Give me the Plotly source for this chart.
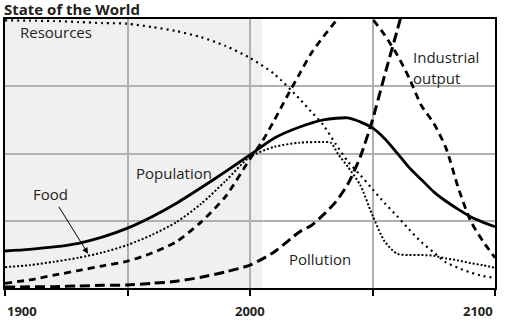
import plotly.graph_objects as go

# ---- data ----
pop_years = [1900, 1910, 1920, 1930, 1940, 1950, 1960, 1970, 1980, 1990, 2000, 2010, 2020, 2030, 2040, 2045, 2050, 2055, 2060, 2065, 2070, 2075, 2080, 2085, 2090, 2095, 2100]
pop_vals  = [0.55, 0.575, 0.61, 0.665, 0.76, 0.89, 1.06, 1.26, 1.49, 1.73, 1.98, 2.23, 2.39, 2.50, 2.53, 2.47, 2.38, 2.22, 2.01, 1.79, 1.61, 1.43, 1.29, 1.17, 1.06, 0.98, 0.91]

food_years = [1900, 1910, 1920, 1930, 1940, 1950, 1960, 1970, 1980, 1990, 2000, 2010, 2020, 2030, 2033, 2036, 2040, 2045, 2050, 2055, 2060, 2065, 2070, 2075, 2080, 2085, 2090, 2095, 2100]
food_vals  = [0.31, 0.34, 0.39, 0.45, 0.53, 0.64, 0.79, 0.98, 1.25, 1.59, 1.95, 2.10, 2.16, 2.17, 2.16, 1.99, 1.80, 1.53, 1.08, 0.69, 0.51, 0.49, 0.49, 0.48, 0.44, 0.41, 0.37, 0.34, 0.30]

res_years = [1900, 1910, 1920, 1930, 1940, 1950, 1960, 1970, 1980, 1990, 2000, 2010, 2020, 2025, 2030, 2035, 2040, 2045, 2050, 2055, 2060, 2065, 2070, 2075, 2080, 2085, 2090, 2095, 2100]
res_vals  = [3.98, 3.975, 3.97, 3.955, 3.94, 3.93, 3.88, 3.82, 3.73, 3.60, 3.42, 3.18, 2.82, 2.62, 2.42, 2.14, 1.88, 1.68, 1.47, 1.26, 1.07, 0.87, 0.68, 0.53, 0.38, 0.30, 0.23, 0.18, 0.15]

ind_years = [1900, 1910, 1920, 1930, 1940, 1950, 1960, 1970, 1980, 1990, 2000, 2005, 2010, 2015, 2020, 2025, 2030, 2035, 2040, 2045, 2050, 2055, 2060, 2065, 2070, 2075, 2080, 2085, 2090, 2095, 2100]
ind_vals  = [0.07, 0.12, 0.19, 0.26, 0.33, 0.40, 0.52, 0.69, 0.98, 1.36, 1.92, 2.18, 2.50, 2.84, 3.17, 3.49, 3.74, 3.97, 4.20, 4.20, 4.00, 3.76, 3.47, 3.12, 2.71, 2.45, 2.08, 1.49, 1.00, 0.70, 0.45]

pol_years = [1900, 1910, 1920, 1930, 1940, 1950, 1960, 1970, 1980, 1990, 2000, 2010, 2020, 2025, 2030, 2035, 2040, 2045, 2050, 2055, 2060, 2065]
pol_vals  = [0.015, 0.017, 0.02, 0.03, 0.04, 0.045, 0.07, 0.10, 0.16, 0.24, 0.34, 0.54, 0.83, 0.93, 1.09, 1.28, 1.55, 1.95, 2.50, 3.17, 3.82, 4.49]

x_tick_labels = ["1900", "2000", "2100"]
x_tick_vals = [1900, 2000, 2100]

FONT = "Open Sans"
TXT = "#231f20"

fig = go.Figure()

def add_line(xs, ys, width, dash):
    fig.add_trace(go.Scatter(x=xs, y=ys, mode="lines",
                             line=dict(color="black", width=width, dash=dash,
                                       shape="spline", smoothing=0.7),
                             hoverinfo="skip", showlegend=False))

add_line(res_years, res_vals, 2.2, "2px,4px")
add_line(food_years, food_vals, 2.0, "2px,2px")
add_line(pol_years, pol_vals, 3.0, "10px,5px")
add_line(ind_years, ind_vals, 2.8, "7px,5px")
add_line(pop_years, pop_vals, 2.8, "solid")

# shaded historical period
fig.add_shape(type="rect", xref="x", yref="y", x0=1900, x1=2005, y0=0, y1=4,
              fillcolor="#f0f0f0", line=dict(width=0), layer="below")

# labels
def label(x, y, text, xanchor="center"):
    fig.add_annotation(x=x, y=y, xref="x", yref="y", text=text, showarrow=False,
                       xanchor=xanchor, yanchor="middle",
                       font=dict(family=FONT, size=15, color=TXT))

label(1905.5, 3.81, "Resources", "left")
label(2065.8, 3.43, "Industrial", "left")
label(2065.8, 3.13, "output", "left")
label(1969.0, 1.71, "Population")
label(1918.4, 1.40, "Food")
label(2028.6, 0.43, "Pollution")

# Food arrow
fig.add_annotation(x=1933.9, y=0.51, xref="x", yref="y", ax=1921.6, ay=1.23,
                   axref="x", ayref="y", text="", showarrow=True,
                   arrowhead=2, arrowsize=1.2, arrowwidth=1, arrowcolor="black")

# title
fig.add_annotation(x=-0.006, y=0.994, xref="paper", yref="paper", text="<b>State of the World</b>",
                   showarrow=False, xanchor="left", yanchor="bottom",
                   font=dict(family=FONT, size=15, color=TXT))

# x tick labels
anchors = ["left", "center", "right"]
for v, t, a in zip(x_tick_vals, x_tick_labels, anchors):
    fig.add_annotation(x=v, y=-0.045, xref="x", yref="paper", text="<b>" + t + "</b>",
                       showarrow=False, xanchor=a, yanchor="top",
                       font=dict(family=FONT, size=13, color=TXT))

fig.update_xaxes(range=[1900, 2100], tick0=1900, dtick=50, showgrid=True,
                 gridcolor="#b0b0b0", gridwidth=2, zeroline=False,
                 showline=True, linecolor="black", linewidth=2, mirror=True,
                 ticks="outside", ticklen=6, tickwidth=2, tickcolor="black",
                 showticklabels=False, fixedrange=True)
fig.update_yaxes(range=[0, 4], tick0=0, dtick=1, showgrid=True,
                 gridcolor="#b0b0b0", gridwidth=2, zeroline=False,
                 showline=True, linecolor="black", linewidth=2, mirror=True,
                 ticks="", showticklabels=False, fixedrange=True)

fig.update_layout(width=506, height=324,
                  margin=dict(l=5, r=11, t=19, b=36),
                  paper_bgcolor="white", plot_bgcolor="white",
                  showlegend=False)

fig.write_html("out.html", config={"displayModeBar": False})
